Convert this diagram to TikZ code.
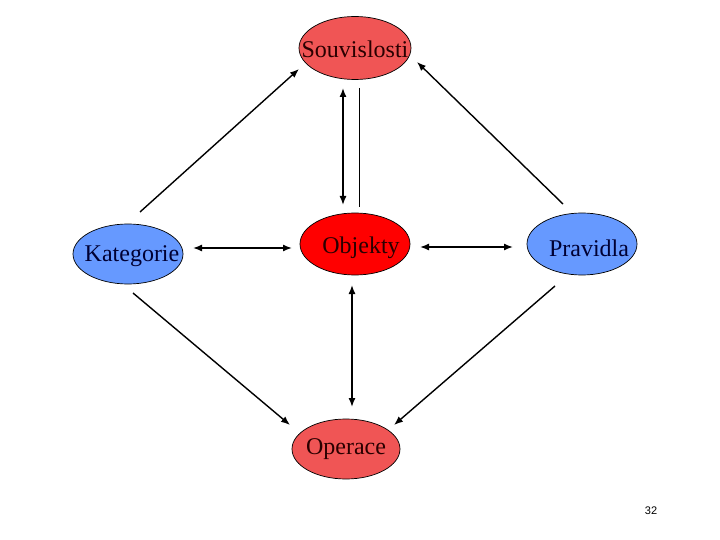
\documentclass[tikz,border=0pt]{standalone}
\usepackage{fontspec}
\setmainfont{Liberation Serif}
\newfontfamily\numfont{Liberation Sans}
\usetikzlibrary{shapes.geometric,arrows.meta,calc}
\definecolor{lred}{HTML}{F05555}
\definecolor{dred}{HTML}{FF0000}
\definecolor{lblue}{HTML}{6699FF}
\definecolor{txtr}{HTML}{2A0000}
\definecolor{txtb}{HTML}{000033}
\tikzset{
  ell/.style={ellipse, draw=black, line width=0.7pt, inner sep=0pt},
  lbl/.style={font=\fontsize{24}{26}\selectfont, inner sep=0pt},
  redell/.style={ell, fill=lred},
  objell/.style={ell, fill=dred},
  blueell/.style={ell, fill=lblue},
  arr/.style={line width=1.4pt, -{Latex[length=9pt,width=7pt]}},
  darr/.style={line width=1.4pt, {Latex[length=9pt,width=7pt]}-{Latex[length=9pt,width=7pt]}},
}
\begin{document}
\begin{tikzpicture}[x=1pt,y=-1pt]
\useasboundingbox (0,0) rectangle (720,540);
\node[redell, minimum width=112pt, minimum height=63pt,
  label={[lbl,text=txtr,yshift=-1pt]center:Souvislosti}] (so) at (355,48) {};
\node[blueell, minimum width=110pt, minimum height=60pt,
  label={[lbl,text=txtb,xshift=4pt,yshift=-2pt]center:Kategorie}] (ka) at (128,254) {};
\node[objell, minimum width=110pt, minimum height=62pt,
  label={[lbl,text=txtr,xshift=6pt,yshift=-4pt]center:Objekty}] (ob) at (355,244) {};
\node[blueell, minimum width=110pt, minimum height=62pt,
  label={[lbl,text=txtb,xshift=7pt,yshift=-4pt]center:Pravidla}] (pr) at (582,244) {};
\node[redell, minimum width=108pt, minimum height=60pt,
  label={[lbl,text=txtr]center:Operace}] (op) at (346,449) {};
\node[font=\numfont\fontsize{11}{12}\selectfont] (num) at (651,511) {32};
% connectors
\draw[arr] ($(ka)+(12,-42)$) -- ($(so)+(-56,21)$);
\draw[arr] ($(pr)+(-19,-40)$) -- ($(so)+(62,14)$);
\draw[darr] ($(so)+(-12,40)$) -- ($(ob)+(-12,-39)$);
\draw[line width=0.7pt] ($(so)+(4,40)$) -- ($(ob)+(4,-37)$);
\draw[darr] ($(ka)+(65,-6)$) -- ($(ob)+(-63,4)$);
\draw[darr] ($(ob)+(65,3)$) -- ($(pr)+(-69,3)$);
\draw[darr] ($(ob)+(-3,41)$) -- ($(op)+(6,-42)$);
\draw[arr] ($(ka)+(5,39)$) -- ($(op)+(-56,-24)$);
\draw[arr] ($(pr)+(-27,42)$) -- ($(op)+(48,-24)$);
\end{tikzpicture}
\end{document}
